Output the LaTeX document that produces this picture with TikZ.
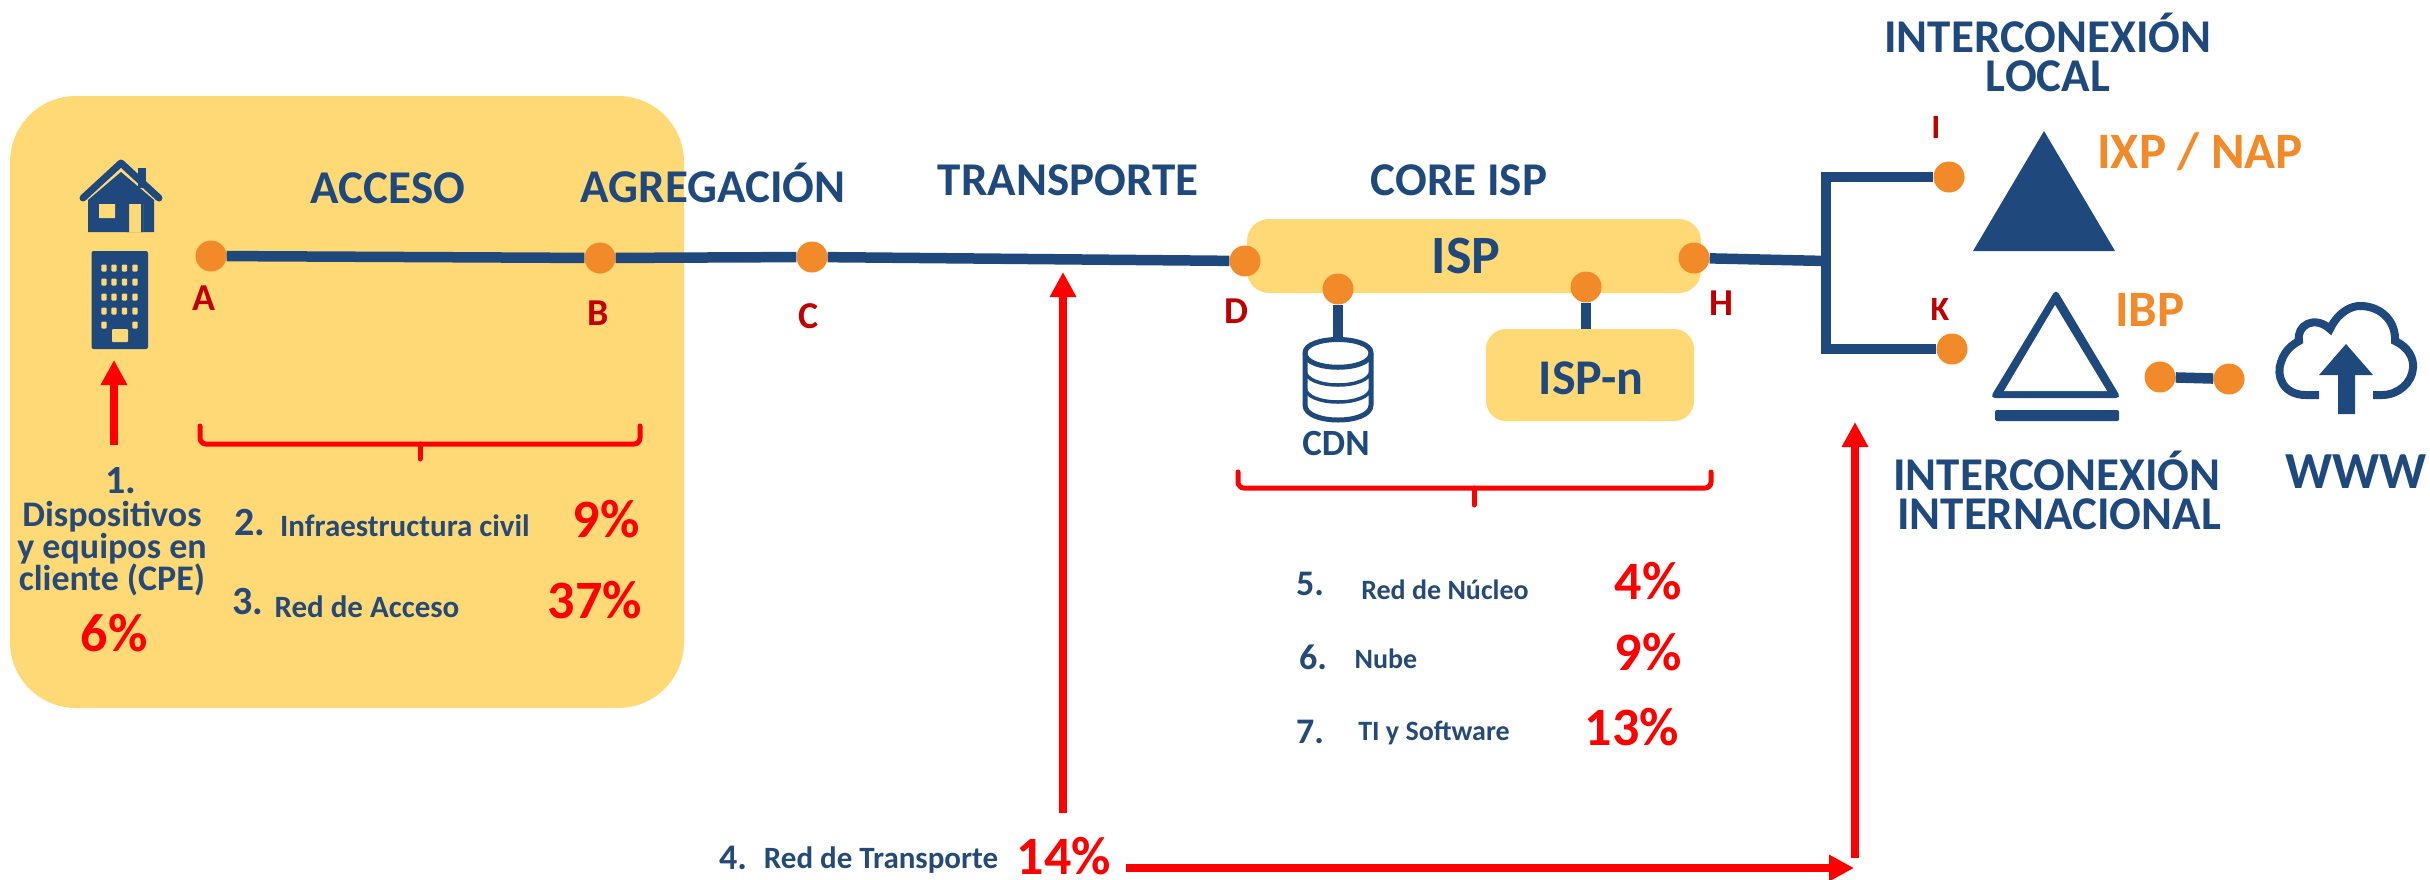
\documentclass[tikz,border=0pt]{standalone}
\usepackage{fontspec}
\setmainfont{Carlito}
\usetikzlibrary{arrows.meta,shapes.geometric,calc}
\definecolor{navy}{HTML}{1F497D}
\definecolor{navytext}{HTML}{264A78}
\definecolor{gold}{HTML}{FFD976}
\definecolor{dotor}{HTML}{F28A2A}
\definecolor{redd}{HTML}{FF0000}
\definecolor{darkr}{HTML}{C00000}
\newcommand{\fsz}[1]{\fontsize{#1}{#1}\selectfont\bfseries}
\tikzset{
 goldbox/.style={fill=gold,draw=none,rectangle,inner sep=0pt},
 dot/.style={circle,fill=dotor,draw=none,minimum size=31pt,inner sep=0pt},
 netline/.style={draw=navy,line width=10.5pt},
 zone/.style={text=navy,font=\fsz{47},inner sep=0pt},
 ptlabel/.style={text=darkr,font=\fsz{38},inner sep=0pt},
 num/.style={text=navytext,font=\fsz{40},inner sep=0pt},
 small/.style={text=navytext,font=\fsz{31},inner sep=0pt},
 pct/.style={text=redd,font=\fsz{54},inner sep=0pt},
 orangetxt/.style={text=dotor,font=\fsz{51},inner sep=0pt},
 redarrow/.style={draw=redd,line width=7.5pt,-{Triangle[length=25pt,width=25pt]}},
 bracketline/.style={draw=redd,line width=5pt,line cap=round,rounded corners=6pt},
 iconfill/.style={fill=navy,draw=none},
 iconline/.style={draw=navy,line width=5pt},
}
\begin{document}
\begin{tikzpicture}[x=1pt,y=-1pt]
\useasboundingbox (0,0) rectangle (2430,879);
% gold areas
\node[goldbox,minimum width=674pt,minimum height=612pt,rounded corners=66pt] (accessbox) at (347,402) {};
\node[goldbox,minimum width=454pt,minimum height=74pt,rounded corners=22pt] (ispbox) at (1474,256) {};
\node[goldbox,minimum width=208pt,minimum height=92pt,rounded corners=20pt] (ispnbox) at (1590,375) {};
% house
\fill[navy] (88,200) -- (121,172) -- (154,200) -- (154,232) -- (88,232) -- cycle;
\fill[gold] (99,204) rectangle (115,218) (127,204) rectangle (143,232);
\fill[navy] (127,204) rectangle (129,232) (141,204) rectangle (143,232);
\fill[navy] (138,168) rectangle (146,188);
\draw[navy,line width=7pt,line cap=round,line join=round] (83,198) -- (121,163) -- (159,198);
% building
\fill[navy,rounded corners=2pt] (91.5,251) rectangle (148,349);
\foreach \yy in {268,282,297,311}{\foreach \xx in {104,114,124.5,135}{\fill[gold,rounded corners=1pt] (\xx-2.7,\yy-3.5) rectangle (\xx+2.7,\yy+3.5);}}
\foreach \xx in {104,135}{\fill[gold,rounded corners=1pt] (\xx-2.7,325-3.5) rectangle (\xx+2.7,325+3.5);}
\fill[gold,rounded corners=1pt] (112,329) rectangle (128,342);
% dots
\node[dot] (A) at (211,256) {};
\node[dot] (B) at (600,258) {};
\node[dot] (C) at (812,257) {};
\node[dot] (D) at (1245,261) {};
\node[dot] (H) at (1694,258) {};
\node[dot] (cdndot) at (1338,289) {};
\node[dot] (ispndot) at (1586,287) {};
\node[dot] (Idot) at (1949,177) {};
\node[dot] (Kdot) at (1952,349) {};
\node[dot] (ibpdot) at (2160,377) {};
\node[dot] (wwwdot) at (2229,379) {};
% main lines
\draw[netline] (A) -- (B);
\draw[netline] (B) -- (C);
\draw[netline] (C) -- (D);
\coordinate (junction) at (1826,261);
\draw[netline] (H) -- (junction);
\draw[netline] (Idot) -- (Idot -| junction) -- (Kdot -| junction) -- (Kdot);
\draw[netline] (ibpdot) -- (wwwdot);
\draw[netline] (cdndot) -- (1338,340);
\draw[netline] (ispndot) -- (ispndot |- ispnbox.north);
% CDN cylinder
\draw[iconline,fill=white] (1305,353) -- (1305,405) .. controls (1305,425) and (1371,425) .. (1371,405) -- (1371,353) .. controls (1371,335) and (1305,335) .. (1305,353) -- cycle;
\draw[iconline] (1305,353) .. controls (1305,372) and (1371,372) .. (1371,353);
\draw[navy,line width=3.5pt] (1305,370) .. controls (1305,390) and (1371,390) .. (1371,370);
\draw[navy,line width=3.5pt] (1305,387) .. controls (1305,407) and (1371,407) .. (1371,387);
% Triangles
\fill[navy] (2044,131) -- (1973,251) -- (2115,251) -- cycle;
\fill[navy,rounded corners=5pt] (2056,289) -- (1990,398) -- (2121,398) -- cycle;
\fill[white] (2055,305) -- (2004,391) -- (2107,391) -- cycle;
\fill[navy,rounded corners=2pt] (1995,410) rectangle (2119,421);
% Cloud
\draw[navy,line width=8pt] (2319,395) -- (2306,395) .. controls (2282,395) and (2276,375) .. (2281,362) .. controls (2285,350) and (2292,345) .. (2299,341) .. controls (2296,325) and (2315,315) .. (2330,329) .. controls (2338,312) and (2352,305) .. (2362,306) .. controls (2382,307) and (2396,322) .. (2395,341) .. controls (2408,347) and (2414,358) .. (2413,368) .. controls (2412,383) and (2398,395) .. (2382,395) -- (2373,395);
\fill[navy] (2346,344) -- (2373,375) -- (2355,375) -- (2355,414) -- (2338,414) -- (2338,375) -- (2319,375) -- cycle;
% Red arrows
\coordinate (cpefrom) at (114,445);
\coordinate (cpeto) at (114,360);
\draw[redarrow] (cpefrom) -- (cpeto);
\coordinate (transfrom) at (1063,813);
\coordinate (transto) at (1063,272);
\draw[redarrow] (transfrom) -- (transto);
\coordinate (horizfrom) at (1126,868);
\coordinate (horizto) at (1854,868);
\draw[redarrow] (horizfrom) -- (horizto);
\coordinate (upfrom) at (1855,858);
\coordinate (upto) at (1855,422);
\draw[redarrow] (upfrom) -- (upto);
% Brackets
\draw[bracketline] (200,426) -- (200,444) -- (640,444) -- (640,426);
\draw[redd,line width=5pt,line cap=round] (420,444) -- (420,459);
\draw[bracketline] (1238,472) -- (1238,488) -- (1711,488) -- (1711,472);
\draw[redd,line width=5pt,line cap=round] (1474,488) -- (1474,505);
% Zone titles
\node[zone] (acceso) at (388,188) {ACCESO};
\node[zone] (agreg) at (713,183) {AGREGACIÓN};
\node[zone] (transp) at (1068,180) {TRANSPORTE};
\node[zone] (core) at (1459,180) {CORE ISP};
\node[zone,font=\fsz{54}] (isptxt) at (1466,256) {ISP};
\node[zone,font=\fsz{50}] (ispntxt) at (1591,378) {ISP-n};
\node[zone,font=\fsz{37}] (cdntxt) at (1336,443) {CDN};
\node[zone] (il1) at (2048,33) {INTERCONEXIÓN};
\node[zone] (il2) at (2048,76) {LOCAL};
\node[zone] (ii1) at (2057,471) {INTERCONEXIÓN};
\node[zone] (ii2) at (2059,514) {INTERNACIONAL};
\node[zone,font=\fsz{52}] (www) at (2356,472) {WWW};
\node[orangetxt] (ixp) at (2200,152) {IXP / NAP};
\node[orangetxt] (ibp) at (2150,310) {IBP};
% point labels
\node[ptlabel] (la) at (204,298) {A};
\node[ptlabel] (lb) at (598,313) {B};
\node[ptlabel] (lc) at (809,316) {C};
\node[ptlabel] (ld) at (1236,311) {D};
\node[ptlabel] (lh) at (1721,303) {H};
\node[ptlabel,font=\fsz{34}] (li) at (1936,127) {I};
\node[ptlabel,font=\fsz{34}] (lk) at (1940,309) {K};
% items
\node[num] (n1) at (121,481) {1.};
\node[small,font=\fsz{36}] (cpe1) at (112,517) {Dispositivos};
\node[small,font=\fsz{36}] (cpe2) at (112,549) {y equipos en};
\node[small,font=\fsz{36}] (cpe3) at (112,580) {cliente (CPE)};
\node[pct] (p1) at (114,633) {6\%};
\node[num] (n2) at (250,523) {2.};
\node[small] (t2) at (405,526) {Infraestructura civil};
\node[pct] (p2) at (606,519) {9\%};
\node[num] (n3) at (248,602) {3.};
\node[small] (t3) at (367,607) {Red de Acceso};
\node[pct] (p3) at (595,600) {37\%};
\node[num,font=\fsz{36}] (n4) at (733,858) {4.};
\node[small] (t4) at (881,860) {Red de Transporte};
\node[pct] (p4) at (1064,856) {14\%};
\node[num,font=\fsz{36}] (n5) at (1310,584) {5.};
\node[small,font=\fsz{28}] (t5) at (1445,590) {Red de Núcleo};
\node[pct] (p5) at (1648,581) {4\%};
\node[num,font=\fsz{36}] (n6) at (1313,657) {6.};
\node[small,font=\fsz{28}] (t6) at (1386,659) {Nube};
\node[pct] (p6) at (1648,652) {9\%};
\node[num,font=\fsz{36}] (n7) at (1310,732) {7.};
\node[small,font=\fsz{28}] (t7) at (1434,733) {TI y Software};
\node[pct] (p7) at (1632,727) {13\%};
\end{tikzpicture}
\end{document}
